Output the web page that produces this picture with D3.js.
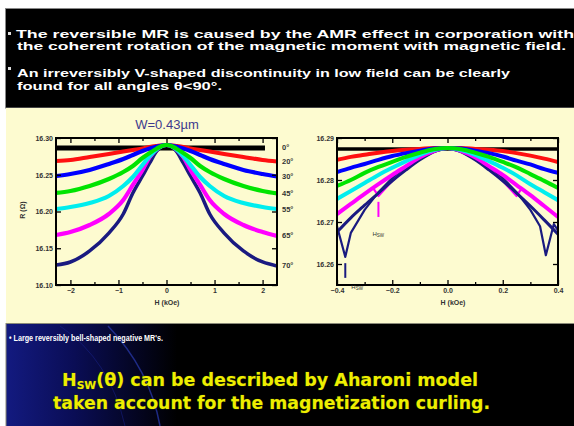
<!DOCTYPE html>
<html><head><meta charset="utf-8">
<script src="https://cdn.jsdelivr.net/npm/d3@7"></script>
<style>html,body{margin:0;padding:0;background:#fff;}svg{display:block;}</style>
</head><body><svg id="c" width="574" height="426"></svg>
<script>
// ---------- DATA ----------
const topLines = [
  "The reversible MR is caused by the AMR effect in corporation with",
  "the coherent rotation of the magnetic moment with magnetic field.",
  "An irreversibly V-shaped discontinuity in low field can be clearly",
  "found for all angles \u03b8<90\u00b0."
];
const bottomNote = "\u2022 Large reversibly bell-shaped negative MR's.";
const conclusionLine2 = "taken account for the magnetization curling.";
const chartTitle = "W=0.43\u00b5m";
const angleLabels = ["0\u00b0","20\u00b0","30\u00b0","45\u00b0","55\u00b0","65\u00b0","70\u00b0"];

// left chart (full field sweep)
const leftXTicks = [-2,-1,0,1,2];
const leftXMinor = [-1.5,-0.5,0.5,1.5];
const leftYTicks = [16.10,16.15,16.20,16.25,16.30];
const leftH = [-2.3,-2,-1.6,-1.2,-0.9,-0.7,-0.5,-0.35,-0.2,-0.1,0,0.1,0.2,0.35,0.5,0.7,0.9,1.2,1.6,2,2.3];
const leftBlackH = [-2.3,2.05];
const leftBlackR = [16.2864,16.2864];
const left20 = [16.2687,16.2701,16.2741,16.2782,16.2816,16.2837,16.2857,16.2878,16.2891,16.2898,16.2905,16.2898,16.2891,16.2878,16.2857,16.2837,16.2816,16.2782,16.2741,16.2701,16.2680];
const left30 = [16.2483,16.2510,16.2565,16.2646,16.2714,16.2769,16.2823,16.2857,16.2884,16.2898,16.2905,16.2898,16.2884,16.2857,16.2823,16.2769,16.2714,16.2646,16.2565,16.2510,16.2476];
const left45 = [16.2252,16.2279,16.2347,16.2442,16.2537,16.2619,16.2728,16.2796,16.2857,16.2891,16.2905,16.2891,16.2857,16.2796,16.2728,16.2619,16.2537,16.2442,16.2347,16.2279,16.2245];
const left55 = [16.2034,16.2061,16.2116,16.2211,16.2347,16.2469,16.2633,16.2755,16.2850,16.2891,16.2905,16.2891,16.2850,16.2755,16.2633,16.2469,16.2347,16.2211,16.2116,16.2061,16.2034];
const left65 = [16.1680,16.1721,16.1816,16.1966,16.2156,16.2361,16.2565,16.2741,16.2850,16.2891,16.2905,16.2891,16.2850,16.2741,16.2565,16.2361,16.2156,16.1966,16.1816,16.1721,16.1667];
const left70 = [16.1272,16.1313,16.1463,16.1707,16.1966,16.2252,16.2483,16.2660,16.2823,16.2884,16.2905,16.2884,16.2823,16.2660,16.2483,16.2252,16.1966,16.1707,16.1463,16.1313,16.1259];

// right chart (low field)
const rightXTicks = [-0.4,-0.2,0,0.2,0.4];
const rightXMinor = [-0.3,-0.1,0.1,0.3];
const rightYTicks = [16.26,16.27,16.28,16.29];
const rightH = [-0.4,-0.35,-0.3,-0.25,-0.2,-0.15,-0.1,-0.05,0,0.05,0.1,0.15,0.2,0.25,0.3,0.35,0.4];
const rightBlackH = [-0.4,0.4];
const rightBlackR = [16.2874,16.2874];
const right20 = [16.2848,16.2855,16.2860,16.2865,16.2869,16.2872,16.2874,16.2876,16.2876,16.2876,16.2874,16.2872,16.2869,16.2864,16.2858,16.2851,16.2843];
const right30 = [16.2819,16.2829,16.2838,16.2848,16.2857,16.2864,16.2870,16.2875,16.2876,16.2875,16.2870,16.2864,16.2856,16.2846,16.2837,16.2826,16.2817];
const right45 = [16.2786,16.2800,16.2817,16.2831,16.2843,16.2855,16.2865,16.2873,16.2876,16.2873,16.2865,16.2855,16.2843,16.2830,16.2814,16.2798,16.2781];
const right55 = [16.2755,16.2774,16.2793,16.2812,16.2829,16.2845,16.2860,16.2871,16.2876,16.2871,16.2860,16.2845,16.2829,16.2811,16.2790,16.2771,16.2752];
const right65 = [16.2719,16.2743,16.2767,16.2790,16.2812,16.2833,16.2854,16.2869,16.2876,16.2869,16.2854,16.2833,16.2812,16.2788,16.2764,16.2738,16.2712];
const right70 = [16.2676,16.2710,16.2740,16.2769,16.2798,16.2824,16.2848,16.2867,16.2876,16.2867,16.2848,16.2824,16.2798,16.2769,16.2738,16.2705,16.2671];
// irreversible branches with V-shaped switching
const navyBranchLH = [0,-0.05,-0.1,-0.15,-0.2,-0.25,-0.3,-0.35,-0.37,-0.4];
const navyBranchLR = [16.2876,16.2867,16.2852,16.2831,16.2805,16.2771,16.2729,16.2674,16.2617,16.2690];
const navyBranchRH = [0,0.05,0.1,0.15,0.2,0.25,0.3,0.335,0.356,0.385,0.4];
const navyBranchRR = [16.2876,16.2867,16.2852,16.2831,16.2805,16.2771,16.2729,16.2690,16.2621,16.2695,16.2680];
const magBranchLH = [0,-0.05,-0.1,-0.15,-0.2,-0.25,-0.27];
const magBranchLR = [16.2876,16.2868,16.2850,16.2826,16.2798,16.2762,16.2781];
const magBranchRH = [0,0.05,0.1,0.15,0.2,0.25,0.27];
const magBranchRR = [16.2876,16.2868,16.2850,16.2826,16.2798,16.2762,16.2781];
const hswH = [-0.25,-0.37];
const hswR1 = [16.2748,16.2602];
const hswR2 = [16.2712,16.2567];

const seriesColors = ["#000000","#ff1010","#0000ff","#00e400","#00eeee","#ff00ff","#1a1a80"];

// ---------- DRAW ----------
const svg = d3.select("#c");
const defs = svg.append("defs");
const lg = defs.append("linearGradient").attr("id","bg").attr("x1",0).attr("x2",1).attr("y1",0).attr("y2",0);
lg.append("stop").attr("offset",0).attr("stop-color","#131a80");
lg.append("stop").attr("offset",0.12).attr("stop-color","#0a0d55");
lg.append("stop").attr("offset",0.3).attr("stop-color","#000000");

svg.append("rect").attr("x",0).attr("y",0).attr("width",574).attr("height",426).attr("fill","#ffffff");
svg.append("rect").attr("x",5.5).attr("y",8.5).attr("width",570).attr("height",99.5).attr("fill","#000").attr("stroke","#888").attr("stroke-width",1);
svg.append("rect").attr("x",6).attr("y",108).attr("width",568).attr("height",215).attr("fill","#fdfbd0");
svg.append("rect").attr("x",6).attr("y",323.5).attr("width",570).attr("height",104).attr("fill","url(#bg)").attr("stroke","#8a8a78").attr("stroke-width",1);
svg.append("path").attr("d","M108 326 Q150 370 160 426").attr("fill","none").attr("stroke","#2535a0").attr("stroke-width",1.5).attr("opacity",0.8);
svg.append("path").attr("d","M60 326 Q110 360 125 426").attr("fill","none").attr("stroke","#1a2490").attr("stroke-width",1).attr("opacity",0.5);

// top text
const tt = svg.append("g").attr("font-family","Liberation Sans, Arial, sans-serif").attr("font-weight","bold").attr("fill","#fff").attr("font-size",11);
const topPos = [{x:16,y:37.5,w:558},{x:17,y:50,w:549},{x:17,y:77,w:493},{x:17,y:90,w:205}];
topLines.forEach((t,i)=>{
  tt.append("text").attr("x",topPos[i].x).attr("y",topPos[i].y).attr("textLength",topPos[i].w).attr("lengthAdjust","spacingAndGlyphs").text(t);
});
[34,69].forEach(y=>tt.append("rect").attr("x",8).attr("y",y-2).attr("width",3).attr("height",3).attr("fill","#ddd"));

// bottom text
svg.append("text").attr("x",9).attr("y",341).attr("font-family","Liberation Sans, Arial, sans-serif").attr("font-weight","bold")
  .attr("font-size",9).attr("fill","#fff").attr("textLength",154).attr("lengthAdjust","spacingAndGlyphs").text(bottomNote);
const yt = svg.append("g").attr("font-family","DejaVu Sans, sans-serif").attr("font-weight","bold").attr("fill","#eeee00")
  .attr("stroke","#3a4a00").attr("stroke-width",0.6).attr("paint-order","stroke").attr("font-size",18);
const c1 = yt.append("text").attr("x",62).attr("y",386).attr("textLength",416).attr("lengthAdjust","spacingAndGlyphs");
c1.append("tspan").text("H");
c1.append("tspan").attr("font-size",11).attr("dy",3).text("SW");
c1.append("tspan").attr("dy",-3).text("(\u03b8) can be described by Aharoni model");
yt.append("text").attr("x",53).attr("y",409).attr("textLength",437).attr("lengthAdjust","spacingAndGlyphs").text(conclusionLine2);

function styleAxis(g, fontSize){
  g.select(".domain").remove();
  g.selectAll(".tick line").attr("stroke","#000").attr("stroke-width",1.3);
  g.selectAll(".tick text").attr("font-family","Liberation Sans, Arial, sans-serif").attr("font-weight","bold").attr("font-size",fontSize).attr("fill","#333");
}

function drawFrame(g, x, y, xt, xm, yt2, xfmt, yfmt, id){
  const [x0,x1] = x.range(); const [yb,yTop] = y.range();
  g.append("g").attr("transform",`translate(0,${yb})`).call(d3.axisBottom(x).tickValues(xt).tickSize(-5).tickPadding(3).tickFormat(xfmt)).call(a=>styleAxis(a,7));
  g.append("g").attr("transform",`translate(0,${yb})`).call(d3.axisBottom(x).tickValues(xm).tickSize(-3).tickFormat("")).call(a=>styleAxis(a,7));
  g.append("g").attr("transform",`translate(0,${yTop})`).call(d3.axisTop(x).tickValues(xt).tickSize(-5).tickFormat("")).call(a=>styleAxis(a,7));
  g.append("g").attr("transform",`translate(0,${yTop})`).call(d3.axisTop(x).tickValues(xm).tickSize(-3).tickFormat("")).call(a=>styleAxis(a,7));
  g.append("g").attr("transform",`translate(${x0},0)`).call(d3.axisLeft(y).tickValues(yt2).tickSize(-5).tickPadding(3).tickFormat(yfmt)).call(a=>styleAxis(a,7));
  g.append("g").attr("transform",`translate(${x1},0)`).call(d3.axisRight(y).tickValues(yt2).tickSize(-5).tickFormat("")).call(a=>styleAxis(a,7));
  defs.append("clipPath").attr("id",id).append("rect").attr("x",x0).attr("y",yTop).attr("width",x1-x0).attr("height",yb-yTop);
}

// LEFT CHART
const xL = d3.scaleLinear().domain([-2.3,2.3]).range([56,277]);
const yL = d3.scaleLinear().domain([16.10,16.30]).range([285,138]);
const gL = svg.append("g");
gL.append("text").attr("x",167).attr("y",129).attr("text-anchor","middle").attr("font-family","Liberation Sans, Arial, sans-serif")
  .attr("font-size",13).attr("fill","#3e3a8e").text(chartTitle);
const plotL = gL.append("g").attr("clip-path","url(#clipL)");
const lineL = d3.line().x(d=>xL(d[0])).y(d=>yL(d[1])).curve(d3.curveMonotoneX);
const leftSeries = [left20,left30,left45,left55,left65,left70];
plotL.append("path").datum(d3.zip(leftBlackH,leftBlackR)).attr("d",lineL).attr("fill","none").attr("stroke",seriesColors[0]).attr("stroke-width",5);
[0,5,4,3,1,2].forEach(i=>{
  plotL.append("path").datum(d3.zip(leftH,leftSeries[i])).attr("d",lineL).attr("fill","none")
    .attr("stroke",seriesColors[i+1]).attr("stroke-width",i===5?3.5:4.2).attr("stroke-linejoin","round");
});
drawFrame(gL,xL,yL,leftXTicks,leftXMinor,leftYTicks,d3.format("d"),d3.format(".2f"),"clipL");
gL.append("rect").attr("x",56).attr("y",138).attr("width",221).attr("height",147).attr("fill","none").attr("stroke","#000").attr("stroke-width",2);
const endVals = [leftBlackR[1]].concat(leftSeries.map(s=>s[s.length-1]));
gL.selectAll("text.ang").data(angleLabels).join("text").attr("class","ang")
  .attr("x",282).attr("y",(d,i)=>yL(endVals[i])+2.5)
  .attr("font-family","Liberation Sans, Arial, sans-serif").attr("font-weight","bold").attr("font-size",7.5).attr("fill","#333").text(d=>d);
gL.append("text").attr("x",167).attr("y",305).attr("text-anchor","middle").attr("font-family","Liberation Sans, Arial, sans-serif")
  .attr("font-weight","bold").attr("font-size",7).attr("fill","#333").text("H (kOe)");
gL.append("text").attr("transform","translate(25,210) rotate(-90)").attr("text-anchor","middle").attr("font-family","Liberation Sans, Arial, sans-serif")
  .attr("font-weight","bold").attr("font-size",7).attr("fill","#333").text("R (\u03a9)");

// RIGHT CHART
const xR = d3.scaleLinear().domain([-0.4,0.4]).range([337,558]);
const yR = d3.scaleLinear().domain([16.255,16.29]).range([285,138]);
const gR = svg.append("g");
const plotR = gR.append("g").attr("clip-path","url(#clipR)");
const lineR = d3.line().x(d=>xR(d[0])).y(d=>yR(d[1])).curve(d3.curveMonotoneX);
const lineRlin = d3.line().x(d=>xR(d[0])).y(d=>yR(d[1]));
const rightSeries = [right20,right30,right45,right55,right65,right70];
plotR.append("path").datum(d3.zip(rightBlackH,rightBlackR)).attr("d",lineR).attr("fill","none").attr("stroke","#000").attr("stroke-width",3.5);
plotR.append("path").datum(d3.zip(rightH,right20)).attr("d",lineR).attr("fill","none").attr("stroke",seriesColors[1]).attr("stroke-width",4);
[[navyBranchLH,navyBranchLR,6],[navyBranchRH,navyBranchRR,6],[magBranchLH,magBranchLR,5],[magBranchRH,magBranchRR,5]].forEach(b=>{
  plotR.append("path").datum(d3.zip(b[0],b[1])).attr("d",lineRlin).attr("fill","none").attr("stroke",seriesColors[b[2]]).attr("stroke-width",2.2).attr("stroke-linejoin","round");
});
[5,4,3,1,2].forEach(i=>{
  plotR.append("path").datum(d3.zip(rightH,rightSeries[i])).attr("d",lineR).attr("fill","none")
    .attr("stroke",seriesColors[i+1]).attr("stroke-width",i===5?3:4);
});
hswH.forEach((h,i)=>{
  gR.append("line").attr("x1",xR(h)).attr("x2",xR(h)).attr("y1",yR(hswR1[i])).attr("y2",yR(hswR2[i]))
    .attr("stroke",i===0?seriesColors[5]:seriesColors[6]).attr("stroke-width",2);
});
drawFrame(gR,xR,yR,rightXTicks,rightXMinor,rightYTicks,d3.format(".1f"),d3.format(".2f"),"clipR");
gR.append("rect").attr("x",337).attr("y",138).attr("width",221).attr("height",147).attr("fill","none").attr("stroke","#000").attr("stroke-width",2);
const hswLab = [{dx:-6,dy:19},{dx:6,dy:11}];
hswH.forEach((h,i)=>{
  const t = gR.append("text").attr("x",xR(h)+hswLab[i].dx).attr("y",yR(hswR2[i])+hswLab[i].dy)
    .attr("font-family","Liberation Sans, Arial, sans-serif").attr("font-size",6).attr("fill","#333");
  t.append("tspan").text("H");
  t.append("tspan").attr("font-size",4.5).attr("dy",1.5).text("SW");
});
gR.append("text").attr("x",453).attr("y",305).attr("text-anchor","middle").attr("font-family","Liberation Sans, Arial, sans-serif")
  .attr("font-weight","bold").attr("font-size",7).attr("fill","#333").text("H (kOe)");
</script></body></html>
